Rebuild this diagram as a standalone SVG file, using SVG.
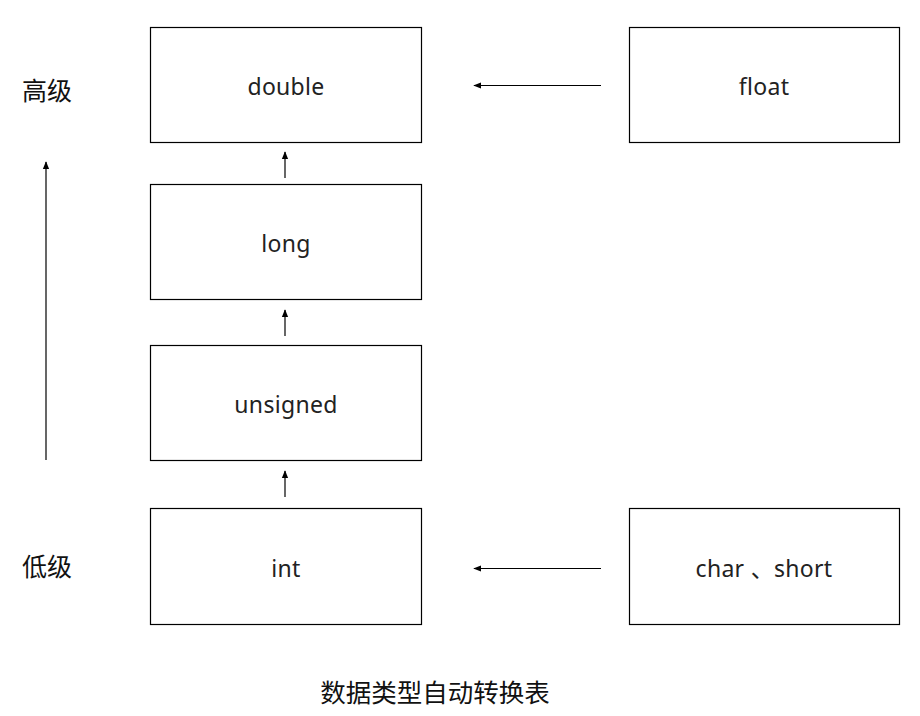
<svg xmlns="http://www.w3.org/2000/svg" width="920" height="716" viewBox="0 0 920 716">
<style>
.box{fill:#fff;stroke:#000;stroke-width:1.2}
.t{font-family:"Noto Sans","Noto Sans CJK SC",sans-serif;font-size:23px;fill:#222;text-anchor:middle;letter-spacing:0.3px}
.cj{font-family:"Noto Sans CJK SC",sans-serif;font-size:25px;fill:#111;text-anchor:middle}
.c{stroke:#000;stroke-width:1.2;fill:none;marker-end:url(#ah)}
</style>
<defs>
<marker id="ah" viewBox="0 0 10 10" refX="9" refY="5" markerWidth="8" markerHeight="8" markerUnits="userSpaceOnUse" orient="auto">
<path d="M0,1 L10,5 L0,9 Z" fill="#000"/>
</marker>
</defs>
<rect width="920" height="716" fill="#fff"/>
<g id="double"><rect class="box" x="150.5" y="27.5" width="271" height="115"/><text class="t" x="286" y="94.5">double</text></g>
<g id="long"><rect class="box" x="150.5" y="184.5" width="271" height="115"/><text class="t" x="286" y="251.5">long</text></g>
<g id="unsigned"><rect class="box" x="150.5" y="345.5" width="271" height="115"/><text class="t" x="286" y="412.5">unsigned</text></g>
<g id="int"><rect class="box" x="150.5" y="508.5" width="271" height="116"/><text class="t" x="286" y="576.5">int</text></g>
<g id="float"><rect class="box" x="629.5" y="27.5" width="270" height="115"/><text class="t" x="764" y="94.5">float</text></g>
<g id="charshort"><rect class="box" x="629.5" y="508.5" width="270" height="116"/><text class="t" x="764" y="576.5">char 、short</text></g>
<g id="high"><text class="cj" x="47" y="100">高级</text></g>
<g id="low"><text class="cj" x="47" y="576">低级</text></g>
<g id="caption"><text class="cj" x="435" y="702" style="font-size:25.5px">数据类型自动转换表</text></g>
<g id="connectors">
<line class="c" x1="285" y1="178" x2="285" y2="152"/>
<line class="c" x1="285" y1="336" x2="285" y2="310"/>
<line class="c" x1="285" y1="497" x2="285" y2="471"/>
<line class="c" x1="601" y1="85.5" x2="474" y2="85.5"/>
<line class="c" x1="601" y1="568.5" x2="474" y2="568.5"/>
<line class="c" x1="46" y1="460" x2="46" y2="162"/>
</g>
</svg>
